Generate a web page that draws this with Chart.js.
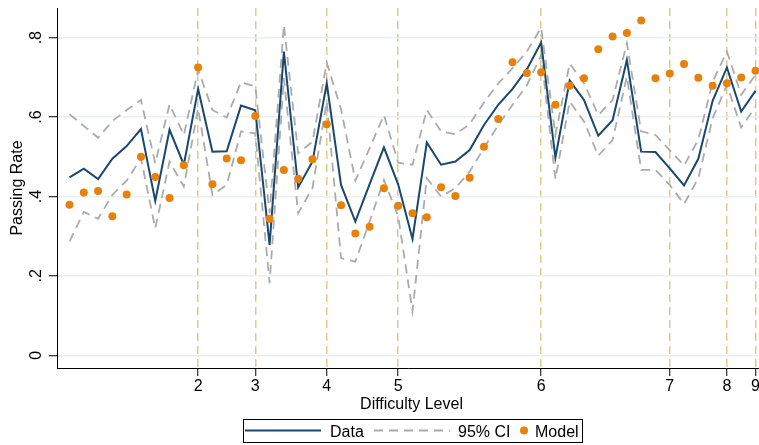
<!DOCTYPE html>
<html>
<head>
<meta charset="utf-8">
<script src="https://cdn.jsdelivr.net/npm/chart.js@4/dist/chart.umd.min.js"></script>
<style>
  html, body { margin: 0; padding: 0; background: #ffffff; }
  #wrap { width: 759px; height: 445px; position: relative; }
</style>
</head>
<body>
<div id="wrap"><canvas id="c" width="759" height="445"></canvas></div>
<script>
// Items ordered by difficulty
const itemNo = [1, 2, 3, 4, 5, 6, 7, 8, 9, 10, 11, 12, 13, 14, 15, 16, 17, 18, 19, 20,
  21, 22, 23, 24, 25, 26, 27, 28, 29, 30, 31, 32, 33, 34, 35, 36, 37, 38, 39, 40,
  41, 42, 43, 44, 45, 46, 47, 48, 49];

// Observed passing rate per item
const passRate = [0.448, 0.470, 0.444, 0.495, 0.527, 0.570, 0.389, 0.568, 0.480, 0.671,
  0.513, 0.514, 0.629, 0.617, 0.278, 0.765, 0.423, 0.488, 0.685, 0.429,
  0.337, 0.431, 0.524, 0.430, 0.293, 0.536, 0.480, 0.488, 0.517, 0.580,
  0.631, 0.671, 0.720, 0.788, 0.498, 0.692, 0.643, 0.553, 0.592, 0.744,
  0.513, 0.512, 0.471, 0.428, 0.495, 0.641, 0.725, 0.614, 0.666];

// 95% confidence interval bounds
const ciUpper = [0.607, 0.578, 0.548, 0.590, 0.618, 0.643, 0.484, 0.632, 0.555, 0.719,
  0.618, 0.599, 0.688, 0.677, 0.358, 0.832, 0.509, 0.538, 0.737, 0.620,
  0.440, 0.522, 0.605, 0.485, 0.480, 0.618, 0.564, 0.557, 0.582, 0.637,
  0.685, 0.723, 0.765, 0.825, 0.555, 0.735, 0.685, 0.605, 0.643, 0.786,
  0.564, 0.555, 0.517, 0.478, 0.543, 0.689, 0.765, 0.656, 0.706];

const ciLower = [0.287, 0.361, 0.344, 0.404, 0.440, 0.496, 0.320, 0.488, 0.425, 0.622,
  0.404, 0.429, 0.564, 0.559, 0.182, 0.698, 0.358, 0.421, 0.639, 0.245,
  0.236, 0.337, 0.442, 0.350, 0.111, 0.446, 0.400, 0.421, 0.463, 0.522,
  0.580, 0.631, 0.680, 0.756, 0.444, 0.639, 0.589, 0.503, 0.542, 0.702,
  0.467, 0.467, 0.429, 0.381, 0.446, 0.597, 0.681, 0.574, 0.626];

// Model-predicted passing rate
const modelRate = [0.379, 0.410, 0.414, 0.350, 0.405, 0.500, 0.449, 0.396, 0.479, 0.725,
  0.431, 0.496, 0.491, 0.603, 0.344, 0.467, 0.445, 0.494, 0.582, 0.378,
  0.307, 0.324, 0.421, 0.377, 0.358, 0.348, 0.423, 0.401, 0.447, 0.525,
  0.595, 0.738, 0.711, 0.713, 0.631, 0.679, 0.698, 0.771, 0.803, 0.812,
  0.843, 0.698, 0.710, 0.734, 0.699, 0.679, 0.685, 0.700, 0.717];

// Item at which each difficulty level is marked
const levelItem = [10, 14, 19, 24, 34, 43, 47, 49];
const levelLabels = ['2', '3', '4', '5', '6', '7', '8', '9'];

const yTickValues = [0, 0.2, 0.4, 0.6, 0.8];
const yTickLabels = ['0', '.2', '.4', '.6', '.8'];

const FONT = '"Liberation Sans", Arial, Helvetica, sans-serif';
const NAVY = '#1a476f';
const CI_GRAY = '#ababab';
const ORANGE = '#e8810b';
const LEVEL_LINE = '#dacd8f';
const GRID = '#e9f0f2';

const toPoints = vals => itemNo.map((x, i) => ({ x: x, y: vals[i] }));

const levelLabelMap = {};
levelItem.forEach((v, i) => { levelLabelMap[v] = levelLabels[i]; });

// Rotated y labels, axis titles and the legend box
const decorations = {
  id: 'decorations',
  afterDraw(chart) {
    const ctx = chart.ctx;
    const y = chart.scales.y;
    const area = chart.chartArea;
    ctx.save();
    ctx.fillStyle = '#000';
    ctx.font = '16px ' + FONT;
    ctx.textAlign = 'center';
    ctx.textBaseline = 'alphabetic';

    yTickValues.forEach((v, i) => {
      const py = y.getPixelForValue(v);
      ctx.save();
      ctx.translate(41, py);
      ctx.rotate(-Math.PI / 2);
      ctx.fillText(yTickLabels[i], 0, 0);
      ctx.restore();
    });

    ctx.save();
    ctx.translate(22, (area.top + area.bottom) / 2);
    ctx.rotate(-Math.PI / 2);
    ctx.fillText('Passing Rate', 0, 0);
    ctx.restore();

    ctx.fillText('Difficulty Level', 411.5, 409);

    // legend
    ctx.strokeStyle = '#000';
    ctx.lineWidth = 1;
    ctx.strokeRect(243.5, 419.5, 339, 23);
    const ly = 430.5;
    ctx.beginPath();
    ctx.strokeStyle = NAVY;
    ctx.lineWidth = 2;
    ctx.moveTo(245, ly);
    ctx.lineTo(321, ly);
    ctx.stroke();
    ctx.beginPath();
    ctx.strokeStyle = CI_GRAY;
    ctx.setLineDash([9, 6]);
    ctx.moveTo(374, ly);
    ctx.lineTo(450, ly);
    ctx.stroke();
    ctx.setLineDash([]);
    ctx.beginPath();
    ctx.fillStyle = ORANGE;
    ctx.arc(524, ly, 4, 0, Math.PI * 2);
    ctx.fill();
    ctx.fillStyle = '#000';
    ctx.textAlign = 'left';
    ctx.fillText('Data', 330, 436.5);
    ctx.fillText('95% CI', 458, 436.5);
    ctx.fillText('Model', 535, 436.5);
    ctx.restore();
  }
};

new Chart(document.getElementById('c'), {
  type: 'line',
  data: {
    datasets: [
      {
        label: 'Model', type: 'scatter', data: toPoints(modelRate), order: 0,
        showLine: false, pointRadius: 4, pointHoverRadius: 4,
        pointBackgroundColor: ORANGE, pointBorderWidth: 0, backgroundColor: ORANGE
      },
      {
        label: 'Data', data: toPoints(passRate), order: 1,
        borderColor: NAVY, borderWidth: 2, pointRadius: 0, tension: 0, fill: false
      },
      {
        label: '95% CI', data: toPoints(ciUpper), order: 2,
        borderColor: CI_GRAY, borderWidth: 1.8, borderDash: [9, 6], pointRadius: 0, tension: 0, fill: false
      },
      {
        label: '95% CI lower', data: toPoints(ciLower), order: 2,
        borderColor: CI_GRAY, borderWidth: 1.8, borderDash: [9, 6], pointRadius: 0, tension: 0, fill: false
      }
    ]
  },
  options: {
    responsive: false,
    animation: false,
    devicePixelRatio: 1,
    layout: { autoPadding: false, padding: { top: 8, right: 0, bottom: 0, left: 0 } },
    plugins: { legend: { display: false }, tooltip: { enabled: false } },
    scales: {
      x: {
        type: 'linear',
        min: 0.125,
        max: 49.245,
        afterBuildTicks(scale) {
          scale.ticks = levelItem.map(v => ({ value: v }));
        },
        afterFit(scale) {
          scale.height = 77;
          scale.paddingLeft = 0;
          scale.paddingRight = 0;
        },
        ticks: {
          autoSkip: false,
          maxRotation: 0,
          minRotation: 0,
          padding: 1,
          color: '#000',
          font: { family: FONT, size: 16 },
          callback: v => levelLabelMap[v] || ''
        },
        grid: {
          color: LEVEL_LINE,
          lineWidth: 1.5,
          tickColor: '#000',
          tickLength: 8,
          tickWidth: 1,
          tickBorderDash: []
        },
        border: { display: true, color: '#000', width: 1, dash: [8, 5] }
      },
      y: {
        type: 'linear',
        min: -0.032,
        max: 0.8748,
        afterBuildTicks(scale) {
          scale.ticks = yTickValues.map(v => ({ value: v }));
        },
        afterFit(scale) {
          scale.width = 57;
        },
        ticks: { display: false },
        grid: {
          color: GRID,
          lineWidth: 1.5,
          tickColor: '#000',
          tickLength: 8,
          tickWidth: 1
        },
        border: { display: true, color: '#000', width: 1 }
      }
    }
  },
  plugins: [decorations]
});
</script>
</body>
</html>
